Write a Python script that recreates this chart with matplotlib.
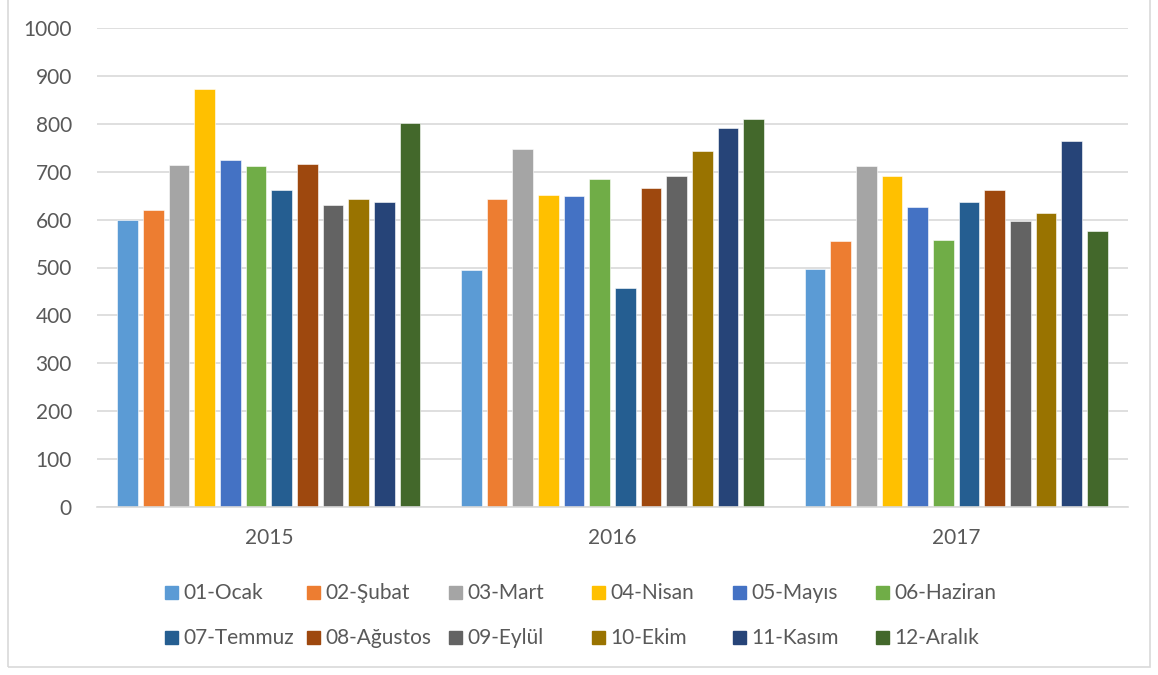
import matplotlib
matplotlib.use("Agg")
import matplotlib.pyplot as plt
import numpy as np
from matplotlib.patches import Rectangle

years = ["2015", "2016", "2017"]
months = ["01-Ocak", "02-Şubat", "03-Mart", "04-Nisan", "05-Mayıs", "06-Haziran",
          "07-Temmuz", "08-Ağustos", "09-Eylül", "10-Ekim", "11-Kasım", "12-Aralık"]
ocak = [600, 495, 496]
subat = [619, 642, 555]
mart = [713, 748, 711]
nisan = [873, 651, 692]
mayis = [724, 649, 627]
haziran = [711, 684, 557]
temmuz = [661, 458, 636]
agustos = [716, 665, 662]
eylul = [631, 691, 598]
ekim = [643, 744, 614]
kasim = [637, 792, 764]
aralik = [801, 810, 576]
series = [ocak, subat, mart, nisan, mayis, haziran, temmuz, agustos, eylul, ekim, kasim, aralik]
yticks = [0, 100, 200, 300, 400, 500, 600, 700, 800, 900, 1000]

colors = ["#5B9BD5", "#ED7D31", "#A5A5A5", "#FFC000", "#4472C4", "#70AD47",
          "#255E91", "#9E480E", "#636363", "#997300", "#264478", "#43682B"]

plt.rcParams['font.family'] = ['Lato', 'DejaVu Sans']
W, H = 1158, 675
fig = plt.figure(figsize=(W / 100, H / 100), dpi=100)
ax = fig.add_axes([97 / W, 1 - 507 / H, 1031 / W, (507 - 28) / H])

x = np.arange(len(years))
pitch = 25.6 / 343.0
width = 20.5 / 343.0
for i, (vals, c) in enumerate(zip(series, colors)):
    ax.bar(x + (i - 5.5) * pitch, vals, width=width, color=c, edgecolor="white",
           linewidth=0.4, zorder=3)

ax.set_xlim(-0.5, 2.5)
ax.set_ylim(0, 1000)
ax.set_yticks(yticks)
ax.set_yticklabels([str(v) for v in yticks])
ax.set_xticks(x)
ax.set_xticklabels(years)
ax.grid(axis="y", color="#D9D9D9", linewidth=1.2, zorder=0)
for s in ["top", "right", "left"]:
    ax.spines[s].set_visible(False)
ax.spines["bottom"].set_color("#D9D9D9")
ax.spines["bottom"].set_linewidth(1.2)
ax.spines["bottom"].set_zorder(4)
ax.tick_params(axis="both", length=0, labelcolor="#595959", labelsize=15)
ax.tick_params(axis="y", pad=18)
ax.tick_params(axis="x", pad=15)

# legend (Excel-style uniform columns)
col_x = [165, 307, 449, 592, 733, 876]
row_y = [592, 637]
sq = 13
for k, (lab, c) in enumerate(zip(months, colors)):
    r, cidx = divmod(k, 6)
    cx = col_x[cidx]
    cy = row_y[r]
    fig.patches.append(Rectangle((cx / W, 1 - (cy + sq / 2) / H), sq / W, sq / H,
                                 transform=fig.transFigure, color=c, figure=fig))
    fig.text((cx + 18) / W, 1 - (cy + 1) / H, lab, ha="left", va="center",
             fontsize=15, color="#595959")

# chart border
fig.patches.append(Rectangle((8 / W, 1 - 667 / H), 1142 / W, 667 / H + 0.01,
                             transform=fig.transFigure, fill=False,
                             edgecolor="#D9D9D9", linewidth=1.2, figure=fig))

fig.savefig("out.png", dpi=100)
